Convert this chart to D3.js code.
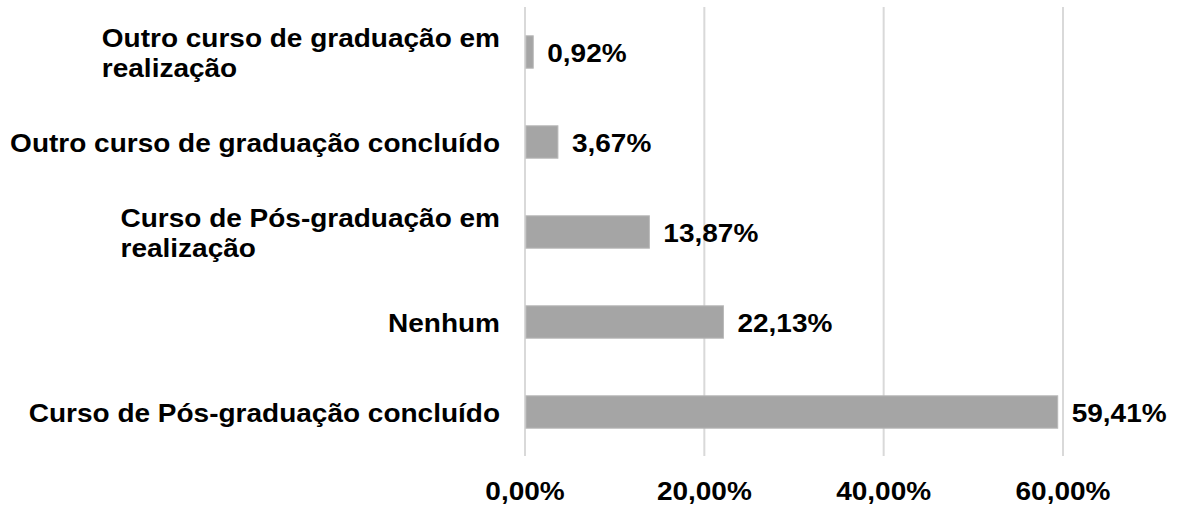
<!DOCTYPE html>
<html>
<head>
<meta charset="utf-8">
<script src="https://cdn.jsdelivr.net/npm/d3@7"></script>
<style>
  body { margin: 0; background: #fff; }
  text { font-family: "Liberation Sans", Arial, sans-serif; font-weight: bold; fill: #000; font-size: 25px; }
</style>
</head>
<body>
<svg id="chart" width="1181" height="511"></svg>
<script>
// categories top to bottom, labels split into lines
var categories = [
    ["Outro curso de graduação em", "realização"],
    ["Outro curso de graduação concluído"],
    ["Curso de Pós-graduação em", "realização"],
    ["Nenhum"],
    ["Curso de Pós-graduação concluído"]
]
var values = [0.92, 3.67, 13.87, 22.13, 59.41]
var ticks = [0, 20, 40, 60]

var fmt = v => v.toFixed(2).replace(".", ",") + "%"
var sx = 1.12  // text in the original is a bit wider than plain Arial

var svg = d3.select("#chart")

var x = d3.scaleLinear().domain([0, 60]).range([525, 1063])
var y = d3.scaleBand()
    .domain(d3.range(values.length))
    .range([7, 457])
    .paddingInner(0.64)
    .paddingOuter(0.32)

// helper: text anchored at (px, py), stretched horizontally
function addText(parent, px, py, anchor, str) {
    return parent.append("g")
        .attr("transform", `translate(${px},${py}) scale(${sx},1)`)
        .append("text")
        .attr("dy", "0.35em")
        .attr("text-anchor", anchor)
        .text(str)
}

// gridlines
svg.append("g")
    .selectAll("line")
    .data(ticks)
    .join("line")
    .attr("x1", d => x(d)).attr("x2", d => x(d))
    .attr("y1", 7).attr("y2", 456)
    .style("stroke", "#d9d9d9")
    .style("stroke-width", 2)

// tick labels
var tickG = svg.append("g")
ticks.forEach(t => addText(tickG, x(t), 491, "middle", fmt(t)))

// bars
svg.append("g")
    .selectAll("rect")
    .data(values)
    .join("rect")
    .attr("x", x(0) + 1)
    .attr("y", (d, i) => y(i))
    .attr("width", d => x(d) - x(0) - 1)
    .attr("height", y.bandwidth())
    .style("fill", "#a5a5a5")
    .style("stroke", "#b8b8b8")
    .style("stroke-width", 1)

// value labels
var valG = svg.append("g")
values.forEach((v, i) => addText(valG, x(v) + 14, y(i) + y.bandwidth() / 2 + 1, "start", fmt(v)))

// category labels: block right-aligned, lines left-aligned
var lineH = 30
var catG = svg.append("g")
categories.forEach((lines, i) => {
    var cy = y(i) + y.bandwidth() / 2 + 1
    var ts = lines.map((s, j) => addText(catG, 500, cy + (j - (lines.length - 1) / 2) * lineH, "start", s))
    var w = d3.max(ts, t => t.node().getComputedTextLength())
    ts.forEach(t => t.attr("x", -w))
})
</script>
</body>
</html>
